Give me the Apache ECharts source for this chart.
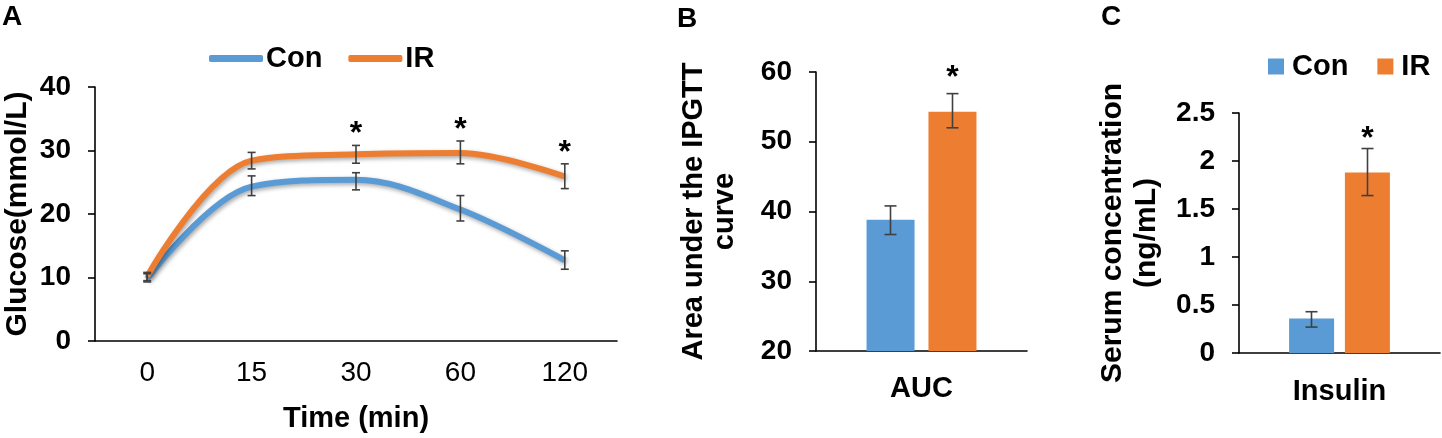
<!DOCTYPE html>
<html>
<head>
<meta charset="utf-8">
<script src="https://cdn.jsdelivr.net/npm/echarts@6/dist/echarts.min.js"></script>
<style>
  html, body { margin: 0; padding: 0; background: #fff; }
  #charts { width: 1442px; height: 438px; }
</style>
</head>
<body>
<div id="charts"></div>
<script>
// panel A: IPGTT glucose (mmol/L)
var timeLabels = ['0', '15', '30', '60', '120'];
var conGlucose = [9.8, 24.3, 25.4, 20.7, 12.7];
var conGlucoseLow = [9.3, 22.9, 23.8, 18.9, 11.3];
var conGlucoseHigh = [10.6, 26.0, 26.5, 22.9, 14.2];
var irGlucose = [10.2, 28.4, 29.4, 29.6, 25.9];
var irGlucoseLow = [9.5, 27.1, 28.0, 27.9, 24.0];
var irGlucoseHigh = [10.8, 29.7, 30.8, 31.5, 27.9];
var irGlucoseStar = [0, 0, 1, 1, 1];

// panel B: area under the curve
var aucLabels = ['AUC'];
var conAuc = [38.8];
var conAucErr = [[36.7, 40.8]];
var irAuc = [54.3];
var irAucErr = [[52.0, 56.9]];
var irAucStar = [1];

// panel C: serum insulin (ng/mL)
var insulinLabels = ['Insulin'];
var conInsulin = [0.36];
var conInsulinErr = [[0.27, 0.43]];
var irInsulin = [1.88];
var irInsulinErr = [[1.64, 2.13]];
var irInsulinStar = [1];

var blue = '#5B9BD5';
var orange = '#ED7D31';
var font = "'Liberation Sans', Arial, sans-serif";

var chartDom = document.getElementById('charts');
var myChart = echarts.init(chartDom);
var option;

// error bar (+ optional star) drawn from data through the axis coords
function errorBars(axisIdx, cats, lows, highs, stars, offset, cap, starGap) {
  var data = cats.map(function (c, i) {
    return [c, lows[i], highs[i], stars ? stars[i] : 0];
  });
  return {
    type: 'custom',
    xAxisIndex: axisIdx,
    yAxisIndex: axisIdx,
    z: 10,
    silent: true,
    data: data,
    renderItem: function (params, api) {
      var lo = api.coord([api.value(0), api.value(1)]);
      var hi = api.coord([api.value(0), api.value(2)]);
      var x = lo[0] + offset;
      var st = { stroke: '#404040', lineWidth: 1.6 };
      var kids = [
        { type: 'line', shape: { x1: x, y1: lo[1], x2: x, y2: hi[1] }, style: st },
        { type: 'line', shape: { x1: x - cap, y1: lo[1], x2: x + cap, y2: lo[1] }, style: st },
        { type: 'line', shape: { x1: x - cap, y1: hi[1], x2: x + cap, y2: hi[1] }, style: st }
      ];
      if (api.value(3)) {
        kids.push({
          type: 'text',
          style: {
            x: x, y: hi[1] - starGap, text: '*',
            fill: '#000', font: 'bold 32px ' + font,
            align: 'center', verticalAlign: 'middle'
          }
        });
      }
      return { type: 'group', children: kids };
    }
  };
}

function valueAxis(idx, min, max, interval, name, gap, lh, fs) {
  return {
    type: 'value', gridIndex: idx, min: min, max: max, interval: interval,
    name: name, nameLocation: 'middle', nameGap: gap, nameRotate: 90,
    nameTextStyle: { fontFamily: font, fontSize: fs, fontWeight: 'bold', color: '#000', lineHeight: lh, align: 'center' },
    axisLine: { show: true, lineStyle: { color: '#000', width: 1.6 } },
    axisTick: { show: true, length: 7, lineStyle: { color: '#000', width: 1.6 } },
    axisLabel: { fontFamily: font, fontSize: 28, fontWeight: 'bold', color: '#000', margin: 24 },
    splitLine: { show: false }
  };
}

function catAxis(idx, cats, bold, margin) {
  return {
    type: 'category', gridIndex: idx, data: cats,
    axisLine: { lineStyle: { color: '#000', width: 1.6 } },
    axisTick: { length: 8, lineStyle: { color: '#000', width: 1.6 } },
    axisLabel: { fontFamily: font, fontSize: bold ? 29 : 28, fontWeight: bold ? 'bold' : 'normal', color: '#000', margin: margin }
  };
}

var xA = catAxis(0, timeLabels, false, 18);
xA.name = 'Time (min)';
xA.nameLocation = 'middle';
xA.nameGap = 63;
xA.nameTextStyle = { fontFamily: font, fontSize: 29, fontWeight: 'bold', color: '#000' };

var lineShadow = { shadowColor: 'rgba(0,0,0,0.35)', shadowBlur: 4, shadowOffsetX: 1.5, shadowOffsetY: 2 };

option = {
  animation: false,
  textStyle: { fontFamily: font },
  graphic: [
    { type: 'text', left: 2, top: 3, style: { text: 'A', font: 'bold 28px ' + font, fill: '#000' } },
    { type: 'text', left: 677, top: 5, style: { text: 'B', font: 'bold 28px ' + font, fill: '#000' } },
    { type: 'text', left: 1101, top: 3, style: { text: 'C', font: 'bold 28px ' + font, fill: '#000' } }
  ],
  legend: [
    {
      left: 204, top: 39, itemWidth: 54, itemHeight: 7, itemGap: 26, selectedMode: false,
      textStyle: { fontFamily: font, fontSize: 29, fontWeight: 'bold', color: '#000', padding: [0, 0, 0, -2] },
      itemStyle: { borderWidth: 0 },
      data: [
        { name: 'Con', icon: 'roundRect', itemStyle: { color: blue } },
        { name: 'IR', icon: 'roundRect', itemStyle: { color: orange } }
      ]
    },
    {
      left: 1263, top: 47, itemWidth: 16, itemHeight: 16, itemGap: 29, selectedMode: false,
      textStyle: { fontFamily: font, fontSize: 29, fontWeight: 'bold', color: '#000', padding: [0, 0, 0, 3] },
      itemStyle: { borderWidth: 0 },
      data: [
        { name: 'Con', icon: 'rect', itemStyle: { color: blue } },
        { name: 'IR', icon: 'rect', itemStyle: { color: orange } }
      ]
    }
  ],
  grid: [
    { left: 90, top: 87, width: 527, height: 256 },
    { left: 816, top: 72, width: 211, height: 279 },
    { left: 1239, top: 113, width: 201, height: 240 }
  ],
  xAxis: [
    xA,
    catAxis(1, aucLabels, true, 23),
    catAxis(2, insulinLabels, true, 24)
  ],
  yAxis: [
    valueAxis(0, 0, 40, 10, 'Glucose(mmol/L)', 60, 34, 30),
    valueAxis(1, 20, 60, 10, 'Area under the IPGTT\ncurve', 76, 31, 29),
    valueAxis(2, 0, 2.5, 0.5, 'Serum concentration\n(ng/mL)', 75, 34, 30)
  ],
  series: [
    {
      name: 'Con', type: 'line', xAxisIndex: 0, yAxisIndex: 0, data: conGlucose,
      smooth: 0.35, symbol: 'none', color: blue,
      lineStyle: Object.assign({ width: 6, color: blue }, lineShadow)
    },
    {
      name: 'IR', type: 'line', xAxisIndex: 0, yAxisIndex: 0, data: irGlucose,
      smooth: 0.35, symbol: 'none', color: orange,
      lineStyle: Object.assign({ width: 6, color: orange }, lineShadow)
    },
    errorBars(0, timeLabels, conGlucoseLow, conGlucoseHigh, null, 0, 4, 0),
    errorBars(0, timeLabels, irGlucoseLow, irGlucoseHigh, irGlucoseStar, 0, 4, 11),

    {
      name: 'Con', type: 'bar', xAxisIndex: 1, yAxisIndex: 1, data: conAuc,
      barWidth: 48, barGap: '29%', itemStyle: { color: blue }
    },
    {
      name: 'IR', type: 'bar', xAxisIndex: 1, yAxisIndex: 1, data: irAuc,
      barWidth: 48, barGap: '29%', itemStyle: { color: orange }
    },
    errorBars(1, aucLabels, conAucErr.map(function (e) { return e[0]; }), conAucErr.map(function (e) { return e[1]; }), null, -31, 6, 0),
    errorBars(1, aucLabels, irAucErr.map(function (e) { return e[0]; }), irAucErr.map(function (e) { return e[1]; }), irAucStar, 31, 6, 15),

    {
      name: 'Con', type: 'bar', xAxisIndex: 2, yAxisIndex: 2, data: conInsulin,
      barWidth: 45, barGap: '24%', itemStyle: { color: blue }
    },
    {
      name: 'IR', type: 'bar', xAxisIndex: 2, yAxisIndex: 2, data: irInsulin,
      barWidth: 45, barGap: '24%', itemStyle: { color: orange }
    },
    errorBars(2, insulinLabels, conInsulinErr.map(function (e) { return e[0]; }), conInsulinErr.map(function (e) { return e[1]; }), null, -28, 6, 0),
    errorBars(2, insulinLabels, irInsulinErr.map(function (e) { return e[0]; }), irInsulinErr.map(function (e) { return e[1]; }), irInsulinStar, 28, 6, 9)
  ]
};

option && myChart.setOption(option);
</script>
</body>
</html>
